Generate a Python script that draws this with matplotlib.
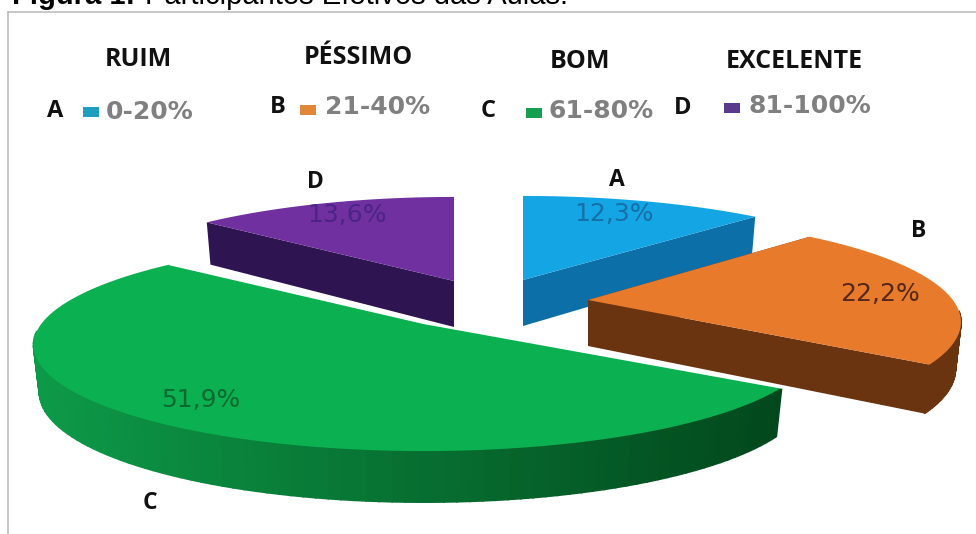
import numpy as np
import matplotlib
matplotlib.use("Agg")
import matplotlib.pyplot as plt
from matplotlib.colors import to_rgb

# Slices A, B, C, D run clockwise from 12 o'clock
slices = ["A", "B", "C", "D"]
values = [12.3, 22.2, 51.9, 13.6]
value_labels = ["12,3%", "22,2%", "51,9%", "13,6%"]
ranges = ["0-20%", "21-40%", "61-80%", "81-100%"]
ratings = ["RUIM", "PÉSSIMO", "BOM", "EXCELENTE"]

top_colors = ["#14a5e4", "#e87a2c", "#0bb050", "#7030a0"]
wall_colors = ["#0d6fa8", "#6a3410", "#0d9a48", "#2e1450"]
wall_dark = ["#0d6fa8", "#6a3410", "#02481c", "#2e1450"]
text_colors = ["#1670a8", "#54281a", "#0a6a30", "#4a2585"]
legend_colors = ["#1f9fc0", "#e0873a", "#14a050", "#5a3a8c"]

# exploded apex and width factor of each slice, in pixels
apex = {"A": (523, 280), "B": (588, 300), "C": (424, 323), "D": (454, 281)}
width_scale = {"A": 1.0, "B": 0.955, "C": 1.0, "D": 0.975}
RX, RY, PERSP = 382, 101.5, 0.2075


def project(theta, cx, cy, scale):
    # pie circle seen in perspective: the near side comes out larger
    u, v = np.cos(theta), np.sin(theta)
    d = 1 + PERSP * v
    return cx + scale * RX * u / d, cy - RY * v / d


def wall_bottom(x, y, theta, cx, cy):
    v = np.sin(theta)
    return cx + (x - cx) * 0.985, cy + (y - cy) * 0.985 + 46 - 7 * v


def blend(c1, c2, t):
    a, b = np.array(to_rgb(c1)), np.array(to_rgb(c2))
    return tuple(a + (b - a) * t)


fig = plt.figure(figsize=(9.76, 5.34), dpi=100)
ax = fig.add_axes([0, 0, 1, 1])
ax.set_xlim(0, 976)
ax.set_ylim(534, 0)
ax.axis("off")

# frame lines
ax.plot([8, 976], [11.5, 11.5], color="#bdbdbd", lw=1.2)
ax.plot([8, 8], [11.5, 534], color="#bdbdbd", lw=1.2)

# caption sits against the top edge
ax.text(12, 3.5, "Figura 1:", fontsize=21, fontweight="bold", family="Liberation Sans", color="black")
ax.text(145, 3.5, "Participantes Efetivos das Aulas.", fontsize=21, family="Liberation Sans", color="black")

# angles come from the values, clockwise from the top
ends = 90 - 3.6 * np.cumsum(values)
starts = np.concatenate([[90], ends[:-1]])

for i in [0, 3, 1, 2]:
    name = slices[i]
    cx, cy = apex[name]
    th = np.radians(np.linspace(starts[i], ends[i], 120))
    x, y = project(th, cx, cy, width_scale[name])
    bx, by = wall_bottom(x, y, th, cx, cy)
    acx, acy = wall_bottom(np.array([cx]), np.array([cy]), np.array([0.0]), cx, cy)

    # radial walls first, the top face hides whatever faces away
    ax.fill([cx, x[0], bx[0], acx[0]], [cy, y[0], by[0], acy[0]], color=wall_colors[i], lw=0)
    ax.fill([cx, x[-1], bx[-1], acx[0]], [cy, y[-1], by[-1], acy[0]], color=wall_dark[i], lw=0)

    # outer rim, shaded left to right; the back part of the arc stays hidden
    xmin, xmax = x.min(), x.max()
    for k in range(len(th) - 1):
        if np.sin(th[k]) > -0.1:
            continue
        t = (x[k] - xmin) / (xmax - xmin)
        ax.fill([x[k], x[k + 1], bx[k + 1], bx[k]], [y[k], y[k + 1], by[k + 1], by[k]],
                color=blend(wall_colors[i], wall_dark[i], t), lw=1.2)

    ax.fill(np.r_[cx, x], np.r_[cy, y], color=top_colors[i], lw=0)
    if name == "C":
        ax.plot(np.r_[x[-1], cx, x[0]], np.r_[y[-1], cy, y[0]], color="white", lw=1.6)

# percentages on the slices
value_pos = [(614, 214), (880, 294), (201, 400), (347, 215)]
for (px, py), label, c in zip(value_pos, value_labels, text_colors):
    ax.text(px, py, label, ha="center", va="center", fontsize=18, color=c, family="DejaVu Sans")

# slice letters next to the pie
letter_pos = [(617, 180), (919, 231), (150, 503), (315, 182)]
for (px, py), label in zip(letter_pos, slices):
    ax.text(px, py, label, ha="center", va="center", fontsize=16.5, fontweight="bold", family="Open Sans", color="#111111")

# hand-placed legend
rating_pos = [(138, 60), (358, 57), (580, 61), (794, 62)]
for (px, py), label in zip(rating_pos, ratings):
    ax.text(px, py, label, ha="center", va="center", fontsize=18, fontweight="bold", family="Open Sans", color="#111111")

key_letter_pos = [(55, 111), (278, 107), (488, 111), (683, 108)]
swatch_pos = [(83, 107), (300, 105), (526, 108), (724, 103)]
range_x = [106, 325, 549, 749]
range_y = [112, 107, 111, 106]
for j in range(4):
    ax.text(*key_letter_pos[j], slices[j], ha="center", va="center", fontsize=17, fontweight="bold", family="Open Sans", color="#111111")
    sx, sy = swatch_pos[j]
    ax.fill([sx, sx + 16, sx + 16, sx], [sy, sy, sy + 10, sy + 10], color=legend_colors[j], lw=0)
    ax.text(range_x[j], range_y[j], ranges[j], ha="left", va="center", fontsize=18, fontweight="bold", color="#808080", family="DejaVu Sans")

fig.savefig("out.png", dpi=100)
